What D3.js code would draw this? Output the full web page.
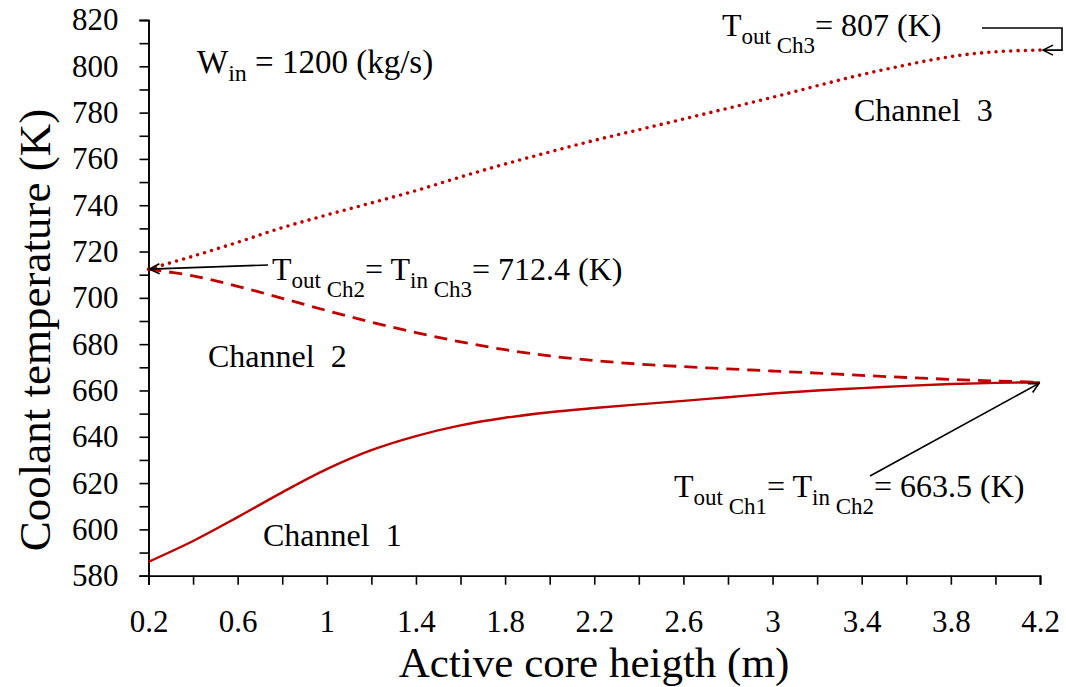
<!DOCTYPE html>
<html>
<head>
<meta charset="utf-8">
<script src="https://cdn.jsdelivr.net/npm/d3@7"></script>
<style>
  html, body { margin: 0; padding: 0; background: #fff; }
  svg { display: block; }
  svg text { font-family: "Liberation Serif", "Times New Roman", serif !important; }
</style>
</head>
<body>
<svg id="chart" width="1066" height="687"></svg>
<script>
// Axial positions along the active core (m)
const heights = [0.2, 0.4, 0.6, 0.8, 1.0, 1.2, 1.4, 1.6, 1.8, 2.0, 2.2, 2.4, 2.6, 2.8, 3.0, 3.2, 3.4, 3.6, 3.8, 4.0, 4.2];

// Coolant temperature (K) in each channel
const channel1 = [586, 595, 605.3, 616, 626, 634.2, 640.3, 644.9, 648.2, 650.6, 652.4, 654, 655.5, 657.1, 658.7, 660, 661, 662, 662.8, 663.3, 663.5];
const channel2 = [712.4, 709.5, 705, 699.8, 694.5, 689.5, 685, 681, 677.6, 674.9, 672.9, 671.4, 670.3, 669.3, 668.4, 667.5, 666.5, 665.6, 664.8, 664.1, 663.5];
const channel3 = [712.4, 718, 724, 730.3, 735.8, 741, 746.3, 752.2, 757.8, 763, 768, 772.6, 777.2, 781.9, 786.6, 791.6, 796.4, 800.6, 804.2, 806.3, 807];

// Tick values
const xTicks = [0.2, 0.6, 1, 1.4, 1.8, 2.2, 2.6, 3, 3.4, 3.8, 4.2];
const xMinorTicks = d3.range(0.2, 4.21, 0.2);
const yTicks = [580, 600, 620, 640, 660, 680, 700, 720, 740, 760, 780, 800, 820];
const yMinorTicks = d3.range(580, 821, 10);

// Key values quoted in the annotations
const inletFlow = 1200;
const tOutCh1 = 663.5;
const tOutCh2 = 712.4;
const tOutCh3 = 807;

const serif = "Liberation Serif";
const svg = d3.select("#chart");
const red = "#c00000";

const x = d3.scaleLinear().domain([0.2, 4.2]).range([148.5, 1040]);
const y = d3.scaleLinear().domain([580, 820]).range([575.7, 20]);

// Axes
const xAxisMinor = d3.axisBottom(x).tickValues(xMinorTicks).tickSize(9).tickFormat("");
const xAxis = d3.axisBottom(x).tickValues(xTicks).tickSize(9).tickPadding(25)
  .tickFormat(d => d3.format("")(+d.toFixed(1)));
const yAxisMinor = d3.axisLeft(y).tickValues(yMinorTicks).tickSize(9).tickFormat("");
const yAxis = d3.axisLeft(y).tickValues(yTicks).tickSize(9).tickPadding(21);

function styleAxis(g) {
  g.attr("font-family", serif).attr("font-size", 31);
  g.select(".domain").attr("stroke", "#000").attr("stroke-width", 1.6);
  g.selectAll(".tick line").attr("stroke", "#000").attr("stroke-width", 1.6);
  g.selectAll(".tick text").attr("fill", "#000");
}

svg.append("g").attr("transform", `translate(0,${y(580)})`).call(xAxisMinor).call(styleAxis);
svg.append("g").attr("transform", `translate(0,${y(580)})`).call(xAxis).call(styleAxis)
  .selectAll(".tick line").remove();
svg.append("g").attr("transform", `translate(${x(0.2)},0)`).call(yAxisMinor).call(styleAxis);
svg.append("g").attr("transform", `translate(${x(0.2)},0)`).call(yAxis).call(styleAxis)
  .selectAll(".tick line").remove();

// Axis titles
svg.append("text")
  .attr("x", 594).attr("y", 677)
  .attr("text-anchor", "middle")
  .attr("font-family", serif).attr("font-size", 43)
  .text("Active core heigth (m)");

svg.append("text")
  .attr("transform", "translate(50,330) rotate(-90)")
  .attr("text-anchor", "middle")
  .attr("font-family", serif).attr("font-size", 45)
  .text("Coolant temperature (K)");

// Temperature curves
const line = d3.line().x((d, i) => x(heights[i])).y(d => y(d)).curve(d3.curveCatmullRom.alpha(0.5));

svg.append("path").datum(channel1)
  .attr("d", line).attr("fill", "none")
  .attr("stroke", red).attr("stroke-width", 2.4);

svg.append("path").datum(channel2)
  .attr("d", line).attr("fill", "none")
  .attr("stroke", red).attr("stroke-width", 2.8)
  .attr("stroke-dasharray", "13 8");

svg.append("path").datum(channel3)
  .attr("d", line).attr("fill", "none")
  .attr("stroke", red).attr("stroke-width", 3.6)
  .attr("stroke-linecap", "round")
  .attr("stroke-dasharray", "0 7.3");

// Arrowhead marker (open V)
svg.append("defs").append("marker")
  .attr("id", "arrow")
  .attr("viewBox", "0 0 12 12")
  .attr("refX", 11).attr("refY", 6)
  .attr("markerWidth", 12).attr("markerHeight", 12)
  .attr("markerUnits", "userSpaceOnUse")
  .attr("orient", "auto")
  .append("path")
  .attr("d", "M1,1 L11,6 L1,11")
  .attr("fill", "none").attr("stroke", "#000").attr("stroke-width", 1.6);

// Plain labels
function label(tx, ty, str) {
  svg.append("text").attr("x", tx).attr("y", ty)
    .attr("font-family", serif).attr("font-size", 32).text(str);
}
label(263, 546, "Channel\u00a0\u00a01");
label(208, 367, "Channel\u00a0\u00a02");
label(854, 121, "Channel\u00a0\u00a03");

// Labels with subscripts: parts = [[text, kind]] where kind = "n" | "sub1" | "sub2"
function richLabel(tx, ty, parts, size) {
  const fs = size || 32;
  const t = svg.append("text").attr("x", tx).attr("y", ty)
    .attr("font-family", serif).attr("font-size", fs);
  let level = 0;
  parts.forEach(([str, kind]) => {
    const target = kind === "sub1" ? 8 : kind === "sub2" ? 17 : 0;
    const s = t.append("tspan").attr("dy", target - level).text(str);
    if (kind !== "n") s.attr("font-size", Math.round(fs * 0.72));
    level = target;
  });
  return t;
}

richLabel(197, 73, [["W", "n"], ["in", "sub1"], [" = " + inletFlow + " (kg/s)", "n"]], 33);

richLabel(722, 36, [["T", "n"], ["out ", "sub1"], ["Ch3", "sub2"], ["= " + tOutCh3 + " (K)", "n"]]);

richLabel(272, 280, [["T", "n"], ["out ", "sub1"], ["Ch2", "sub2"], ["= T", "n"], ["in ", "sub1"],
  ["Ch3", "sub2"], ["= " + tOutCh2 + " (K)", "n"]]);

richLabel(674, 497, [["T", "n"], ["out ", "sub1"], ["Ch1", "sub2"], ["= T", "n"], ["in ", "sub1"],
  ["Ch2", "sub2"], ["= " + tOutCh1 + " (K)", "n"]]);

// Leader arrows pointing to the channel boundary temperatures
svg.append("path")
  .attr("d", `M982,28 H1062 V${y(tOutCh3)} H${x(4.2) + 3}`)
  .attr("fill", "none").attr("stroke", "#000").attr("stroke-width", 1.6)
  .attr("marker-end", "url(#arrow)");

svg.append("line")
  .attr("x1", 268).attr("y1", 265)
  .attr("x2", x(0.2) + 1).attr("y2", y(tOutCh2))
  .attr("stroke", "#000").attr("stroke-width", 1.6)
  .attr("marker-end", "url(#arrow)");

svg.append("line")
  .attr("x1", 870).attr("y1", 476)
  .attr("x2", x(4.2) - 1).attr("y2", y(tOutCh1) + 1)
  .attr("stroke", "#000").attr("stroke-width", 1.6)
  .attr("marker-end", "url(#arrow)");
</script>
</body>
</html>
